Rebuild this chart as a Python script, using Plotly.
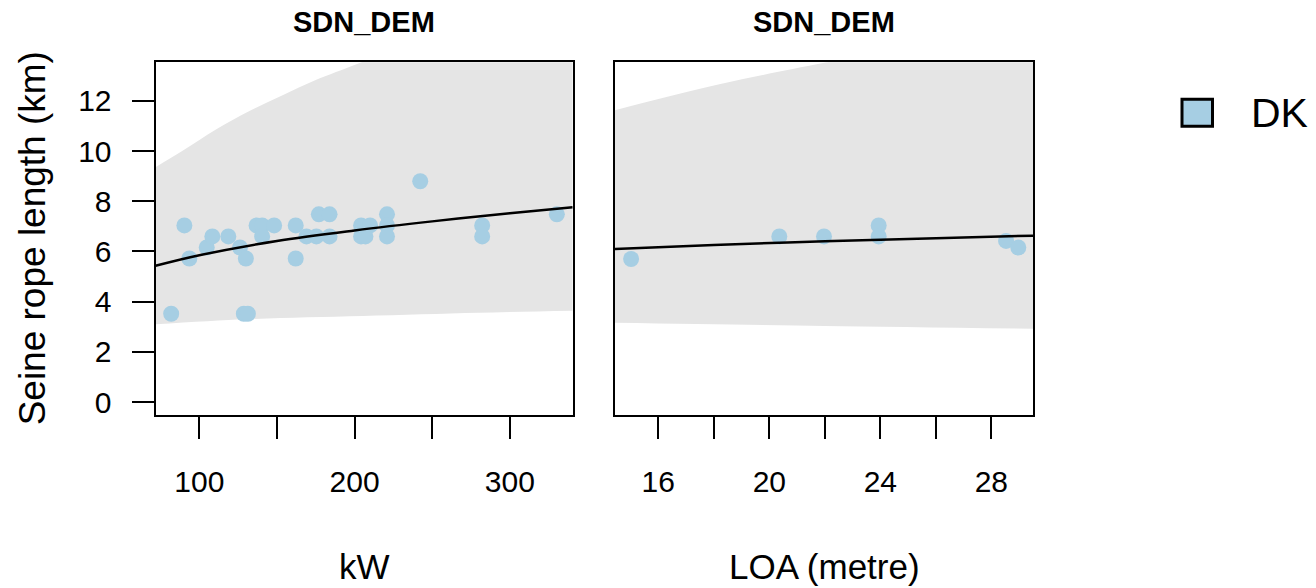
import plotly.graph_objects as go

# ---------------- data ----------------
kw_x = [81.9, 90.4, 93.6, 104.8, 108.4, 118.7, 126.2, 130.0, 128.7, 131.3,
        136.9, 140.5, 140.5, 148.2, 162.1, 162.1, 169.0, 175.4, 177.0, 183.9,
        183.9, 204.2, 210.0, 204.2, 207.0, 220.9, 220.9, 220.9, 242.3, 282.2,
        282.2, 330.3]
kw_y = [3.52, 7.04, 5.72, 6.16, 6.60, 6.60, 6.16, 5.72, 3.52, 3.52,
        7.04, 7.04, 6.60, 7.04, 7.04, 5.72, 6.60, 6.60, 7.48, 7.48,
        6.60, 7.04, 7.04, 6.60, 6.60, 7.48, 7.04, 6.60, 8.80, 7.04,
        6.60, 7.48]

loa_x = [15.02, 20.36, 21.97, 23.94, 23.94, 28.53, 28.97]
loa_y = [5.70, 6.60, 6.60, 7.04, 6.60, 6.42, 6.16]

# fitted curve and prediction band, kW panel
kw_fit_x = [71.8, 100, 150, 200, 250, 300, 340.5]
kw_fit_y = [5.43, 5.85, 6.42, 6.84, 7.20, 7.52, 7.76]
kw_up_x = [71.8, 89, 111, 132, 154, 175, 197, 250, 300, 340.5]
kw_up_y = [9.36, 10.0, 10.87, 11.59, 12.24, 12.83, 13.36, 14.6, 15.4, 16.0]
kw_lo_x = [71.8, 130, 205, 280, 340.5]
kw_lo_y = [3.10, 3.30, 3.43, 3.56, 3.64]

# fitted curve and prediction band, LOA panel
loa_fit_x = [14.44, 18, 22, 26, 29.5]
loa_fit_y = [6.10, 6.26, 6.41, 6.53, 6.63]
loa_up_x = [14.44, 18.2, 22.07, 29.5]
loa_up_y = [11.63, 12.66, 13.54, 15.1]
loa_lo_x = [14.44, 22.0, 29.5]
loa_lo_y = [3.16, 3.03, 2.92]

kw_ticks = [100, 150, 200, 250, 300]
kw_ticktext = ["100", "", "200", "", "300"]
loa_ticks = [16, 18, 20, 22, 24, 26, 28]
loa_ticktext = ["16", "", "20", "", "24", "", "28"]
y_ticks = [0, 2, 4, 6, 8, 10, 12]

panel_title = "SDN_DEM"
x_titles = ["kW", "LOA (metre)"]
y_title = "Seine rope length (km)"
legend_label = "DK"

# ---------------- styling ----------------
PT_COL = "#A6CEE3"
BAND_COL = "#E5E5E5"
FONT = "Liberation Sans, Arial, sans-serif"
W, H = 1316, 588

fig = go.Figure()

def add_panel(xa, ya, fx, fy, ux, uy, lx, ly, px, py):
    fig.add_trace(go.Scatter(
        x=lx, y=ly, mode="lines",
        line=dict(width=0, color=BAND_COL, shape="spline"),
        hoverinfo="skip", showlegend=False, xaxis=xa, yaxis=ya))
    fig.add_trace(go.Scatter(
        x=ux, y=uy, mode="lines", fill="tonexty", fillcolor=BAND_COL,
        line=dict(width=0, color=BAND_COL, shape="spline"),
        hoverinfo="skip", showlegend=False, xaxis=xa, yaxis=ya))
    fig.add_trace(go.Scatter(
        x=px, y=py, mode="markers", name=legend_label,
        marker=dict(color=PT_COL, size=16, line=dict(width=0)),
        showlegend=False, xaxis=xa, yaxis=ya))
    fig.add_trace(go.Scatter(
        x=fx, y=fy, mode="lines",
        line=dict(color="black", width=2.5, shape="spline"),
        showlegend=False, xaxis=xa, yaxis=ya))

add_panel("x", "y", kw_fit_x, kw_fit_y, kw_up_x, kw_up_y, kw_lo_x, kw_lo_y,
          kw_x, kw_y)
add_panel("x2", "y2", loa_fit_x, loa_fit_y, loa_up_x, loa_up_y, loa_lo_x, loa_lo_y,
          loa_x, loa_y)

tickfont = dict(family=FONT, size=30, color="black")
yr = [-0.51, 13.54]
common = dict(showline=True, mirror=True, linecolor="black", linewidth=2,
              showgrid=False, zeroline=False, tickfont=tickfont)

fig.update_layout(
    width=W, height=H, margin=dict(l=0, r=0, t=0, b=0),
    paper_bgcolor="white", plot_bgcolor="white", showlegend=False,
    xaxis=dict(domain=[155.5 / W, 572.7 / W], range=[71.8, 340.5],
               tickmode="array", tickvals=kw_ticks, ticktext=kw_ticktext,
               ticks="outside", ticklen=22, tickwidth=2, tickcolor="black",
               ticklabelstandoff=17, anchor="y", **common),
    xaxis2=dict(domain=[615 / W, 1033 / W], range=[14.44, 29.5],
                tickmode="array", tickvals=loa_ticks, ticktext=loa_ticktext,
                ticks="outside", ticklen=22, tickwidth=2, tickcolor="black",
                ticklabelstandoff=17, anchor="y2", **common),
    yaxis=dict(domain=[1 - 417.7 / H, 1 - 62.7 / H], range=yr,
               tickmode="array", tickvals=y_ticks,
               ticks="outside", ticklen=22, tickwidth=2, tickcolor="black",
               ticklabelstandoff=14, anchor="x", **common),
    yaxis2=dict(domain=[1 - 417.7 / H, 1 - 62.7 / H], range=yr,
                showticklabels=False, ticks="", anchor="x2", **common),
)

ann = []
for cx in [(155.5 + 572.7) / 2, (615 + 1033) / 2]:
    ann.append(dict(text="<b>" + panel_title + "</b>", x=cx / W, y=1 - 22 / H,
                    xref="paper", yref="paper", showarrow=False,
                    xanchor="center", yanchor="middle",
                    font=dict(family=FONT, size=29, color="black")))
for cx, t in zip([(155.5 + 572.7) / 2, (615 + 1033) / 2], x_titles):
    ann.append(dict(text=t, x=cx / W, y=1 - 570 / H, xref="paper", yref="paper",
                    showarrow=False, xanchor="center", yanchor="middle",
                    font=dict(family=FONT, size=35, color="black")))
ann.append(dict(text=y_title, x=32 / W, y=1 - 240 / H, xref="paper", yref="paper",
                showarrow=False, textangle=-90, xanchor="center", yanchor="middle",
                font=dict(family=FONT, size=37, color="black")))
ann.append(dict(text=legend_label, x=1249 / W, y=1 - 114 / H, xref="paper",
                yref="paper", showarrow=False, xanchor="left", yanchor="middle",
                font=dict(family=FONT, size=41, color="black")))
fig.update_layout(annotations=ann)

fig.add_shape(type="rect", xref="paper", yref="paper",
              x0=1182 / W, x1=1212.5 / W, y0=1 - 127 / H, y1=1 - 100 / H,
              fillcolor=PT_COL, line=dict(color="black", width=3))

fig.write_html("out.html")
